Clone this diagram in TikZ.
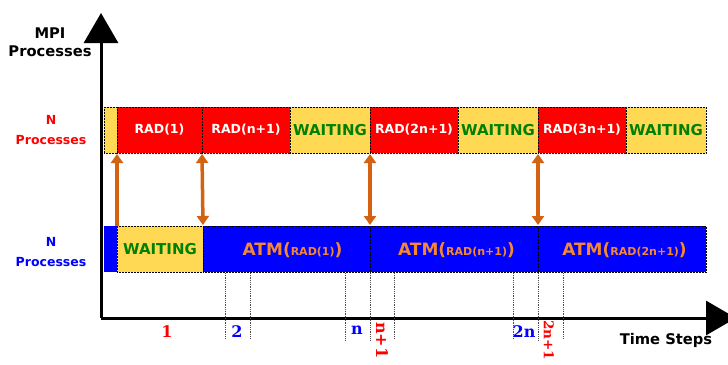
\documentclass[tikz,border=0pt]{standalone}
\usepackage{fontspec}
\setmainfont{DejaVu Sans}
\newfontfamily\serifb{DejaVu Serif}
\usetikzlibrary{arrows.meta}
\definecolor{myred}{RGB}{255,0,0}
\definecolor{myblue}{RGB}{0,0,255}
\definecolor{myyel}{RGB}{255,217,84}
\definecolor{mygreen}{RGB}{0,128,0}
\definecolor{atmorange}{RGB}{245,135,50}
\definecolor{arrorange}{RGB}{212,98,16}
\newcommand{\atmtext}[1]{{\fontsize{17}{17}\selectfont ATM(}{\fontsize{11}{11}\selectfont #1}{\fontsize{17}{17}\selectfont )}}
\begin{document}
\begin{tikzpicture}[x=1pt,y=-1pt,
  cell/.style={draw=black, densely dotted, line width=0.5pt, minimum height=46pt, inner sep=0pt, outer sep=0pt, anchor=north west, font=\bfseries},
  radcell/.style={cell, fill=myred, text=white, font=\bfseries\fontsize{12.5}{12.5}\selectfont},
  waitcell/.style={cell, fill=myyel, text=mygreen, font=\bfseries\fontsize{15}{15}\selectfont},
  atmcell/.style={cell, fill=myblue, text=atmorange, font=\bfseries, text depth=0pt},
  axis/.style={line width=3pt, -{Triangle[length=30pt,width=34pt]}},
  link/.style={arrorange, line width=3.5pt, -{Triangle[length=9pt,width=12pt]}, shorten >=1pt},
  dlink/.style={arrorange, line width=3.5pt, {Triangle[length=9pt,width=12pt]}-{Triangle[length=9pt,width=12pt]}, shorten >=1pt, shorten <=1pt},
  guide/.style={black!70, densely dotted, line width=0.8pt},
  lbl/.style={font=\bfseries\fontsize{14.7}{18}\selectfont, align=center},
  step label/.style={font=\serifb\bfseries\fontsize{16}{16}\selectfont, inner sep=0pt}
]
\useasboundingbox (0,0) rectangle (728,364);

% axes
\coordinate (o) at (101,318);
\coordinate (ytip) at (101,13);
\coordinate (xtip) at (736,318);
\draw[axis] (o) -- (ytip);
\draw[axis] (o) -- (xtip);

\node[lbl] (mpi) at (50,42) {MPI\\Processes};
\node[lbl] (ts) at (666,340) {Time Steps};
\node[lbl, text=myred, font=\bfseries\fontsize{12.5}{20}\selectfont] (ntop) at (51,130) {N\\Processes};
\node[lbl, text=myblue, font=\bfseries\fontsize{12.5}{20}\selectfont] (nbot) at (51,252) {N\\Processes};

% top row
\node[waitcell, minimum width=13pt] (y0) at (104,107) {};
\node[radcell, minimum width=85pt] (r1) at (117,107) {RAD(1)};
\node[radcell, minimum width=88pt] (r2) at (202,107) {RAD(n+1)};
\node[waitcell, minimum width=80pt] (w1) at (290,107) {WAITING};
\node[radcell, minimum width=88pt] (r3) at (370,107) {RAD(2n+1)};
\node[waitcell, minimum width=80pt] (w2) at (458,107) {WAITING};
\node[radcell, minimum width=88pt] (r4) at (538,107) {RAD(3n+1)};
\node[waitcell, minimum width=80pt] (w3) at (626,107) {WAITING};

% bottom row
\node[cell, fill=myblue, draw=none, minimum width=13pt] (b0) at (104,226) {};
\node[waitcell, minimum width=86pt] (bw) at (117,226) {WAITING};
\node[atmcell, minimum width=167pt, text width=167pt, align=center] (a1) at (203,226) {\hspace*{12pt}\atmtext{RAD(1)}};
\node[atmcell, minimum width=168pt, text width=168pt, align=center] (a2) at (370,226) {\hspace*{5pt}\atmtext{RAD(n+1)}};
\node[atmcell, minimum width=168pt, text width=168pt, align=center] (a3) at (538,226) {\hspace*{5pt}\atmtext{RAD(2n+1)}};

% arrows
\draw[link] (bw.north west) -- (r1.south west);
\draw[dlink] (r2.south west) -- (a1.north west);
\draw[dlink] (r3.south west) -- (a2.north west);
\draw[dlink] (r4.south west) -- (a3.north west);

% guides
\foreach \x/\e in {225/338,250/338,345/340,370/340,394/338,513/338,538/340,563/338}
  \draw[guide] (\x,273) -- (\x,\e);

% step labels
\node[step label, text=myred] (s1) at (167,332) {1};
\node[step label, text=myblue] (s2) at (237,332) {2};
\node[step label, text=myblue] (sn) at (357,330) {n};
\node[step label, text=myred, rotate=-90, anchor=west] (sn1) at (382,322) {n+1};
\node[step label, text=myblue] (s2n) at (524,332) {2n};
\node[step label, text=myred, rotate=-90, anchor=west, font=\serifb\bfseries\fontsize{13.5}{13.5}\selectfont] (s2n1) at (549,320) {2n+1};
\end{tikzpicture}
\end{document}
